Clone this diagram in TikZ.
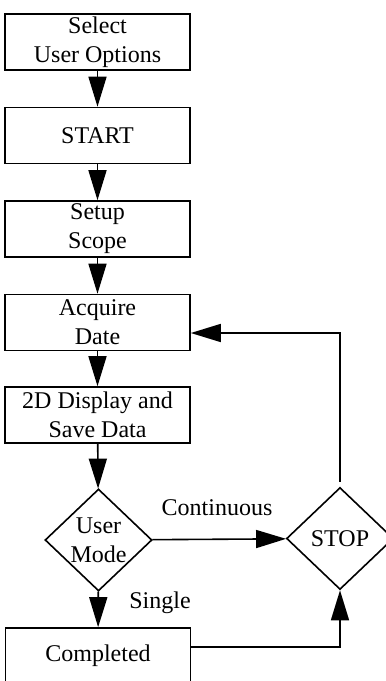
\documentclass[tikz,border=0pt]{standalone}
\usepackage{fontspec}
\setmainfont{Liberation Serif}
\usetikzlibrary{shapes.geometric}
\usetikzlibrary{arrows.meta}

\begin{document}
\begin{tikzpicture}[x=1pt, y=-1pt, line width=1.6pt,
        font=\fontsize{24}{29}\selectfont,
        box/.style={shape=rectangle, draw=black, minimum width=185pt, minimum height=56pt, inner sep=0pt, align=center},
        choice/.style={shape=diamond, draw=black, minimum width=107pt, minimum height=102pt, inner sep=0pt},
        flow/.style={-{Triangle[length=30pt, width=18pt]}}]
        \clip (0,0) rectangle (386,681);

        % main column
        \node[box] (sel) at (97.5,42) {Select\\User Options};
        \node[box] (start) at (97.5,135.5) {START};
        \node[box] (setup) at (97.5,229) {Setup\\Scope};
        \node[box] (acq) at (97.5,322.5) {Acquire\\Date};
        \node[box] (disp) at (97.5,415) {2D Display and\\Save Data};
        \node[choice, label={[align=center]center:User\\Mode}] (mode) at (98.5,540) {};
        \node[box] (done) at (98,656) {Completed};

        % stop decision on the right
        \node[choice] (stop) at (340,538.5) {STOP};

        \node (cont) at (217,508) {Continuous};
        \node (single) at (160,603) {Single};

        \coordinate (back) at (340,333);
        \coordinate (turn) at (340,647);

        \draw[flow] (sel) -- (start);
        \draw[flow] (start) -- (setup);
        \draw[flow] (setup) -- (acq);
        \draw[flow] (acq) -- (disp);
        \draw[flow] (disp) -- (mode);
        \draw[flow] (mode) -- (done);
        \draw[flow] (mode) -- (stop);
        \draw[flow] (done.east |- turn) -- (turn) -- (stop.south);
        \draw[flow, shorten <=5pt] (stop.north) -- (back) -- (acq.east |- back);
    \end{tikzpicture}
\end{document}
